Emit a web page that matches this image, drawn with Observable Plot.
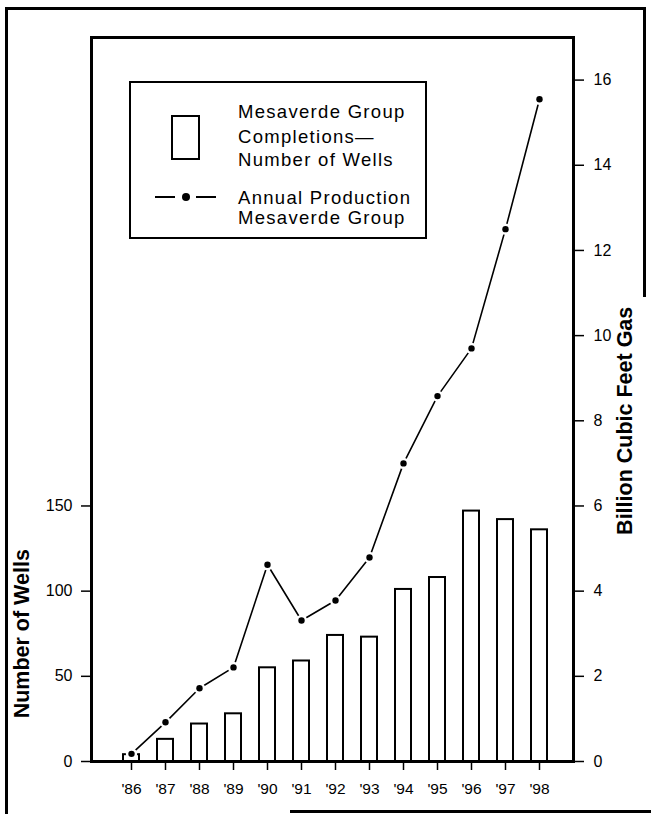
<!DOCTYPE html>
<html>
<head>
<meta charset="utf-8">
<script src="https://cdn.jsdelivr.net/npm/d3@7"></script>
<script src="https://cdn.jsdelivr.net/npm/@observablehq/plot@0.6"></script>
<style>
  html, body { margin: 0; padding: 0; background: #fff; }
  #wrap { position: relative; width: 651px; height: 814px; overflow: hidden; font-family: "Liberation Sans", Arial, Helvetica, sans-serif; }
  .line { position: absolute; background: #000; }
  #legend { position: absolute; left: 129px; top: 81px; width: 294px; height: 154px; border: 2.5px solid #000; background: #fff; }
  #legend .sw { position: absolute; left: 40px; top: 32px; width: 25px; height: 41px; border: 2px solid #000; }
  #legend .txt { position: absolute; left: 107px; font-size: 18.5px; letter-spacing: 1.3px; line-height: 1; white-space: nowrap; color: #000; }
  #legend .dash { position: absolute; height: 2px; background: #000; top: 113px; }
  #legend .dot { position: absolute; width: 8px; height: 8px; border-radius: 50%; background: #000; left: 51px; top: 110px; }
</style>
</head>
<body>
<div id="wrap"></div>
<script>
const years = ["'86", "'87", "'88", "'89", "'90", "'91", "'92", "'93", "'94", "'95", "'96", "'97", "'98"];
const wells = [4, 13, 22, 28, 55, 59, 74, 73, 101, 108, 147, 142, 136];
const production = [0.18, 0.92, 1.72, 2.21, 4.62, 3.31, 3.78, 4.79, 7.0, 8.58, 9.7, 12.5, 15.55];
const leftTicks = [0, 50, 100, 150];
const rightTicks = [0, 2, 4, 6, 8, 10, 12, 14, 16];
const ratio = 25; // wells per billion cubic feet on the shared axis

const data = years.map((y, i) => ({year: y, wells: wells[i], prod: production[i], prodScaled: production[i] * ratio}));

const chart = Plot.plot({
  width: 651,
  height: 814,
  marginLeft: 91,
  marginRight: 78,
  marginTop: 37,
  marginBottom: 53,
  style: {fontFamily: "'Liberation Sans', Arial, Helvetica, sans-serif", fontSize: "16px", background: "transparent", color: "#000"},
  x: {type: "band", domain: years, padding: 0.52, insetLeft: 8.5, insetRight: 1.5},
  y: {domain: [0, 17 * ratio]},
  marks: [
    Plot.barY(data, {x: "year", y: "wells", fill: "white", stroke: "black", strokeWidth: 2}),
    Plot.line(data, {x: "year", y: "prodScaled", stroke: "black", strokeWidth: 1.6}),
    Plot.dot(data, {x: "year", y: "prodScaled", r: 3.2, fill: "black", stroke: "white", strokeWidth: 5, paintOrder: "stroke"}),
    Plot.axisY({anchor: "left", ticks: leftTicks, tickSize: 10, tickPadding: 9, strokeWidth: 1.5, fontSize: 16, label: null}),
    Plot.axisY({anchor: "right", ticks: rightTicks.map(d => d * ratio), tickFormat: d => String(d / ratio), tickSize: 10, tickPadding: 10, strokeWidth: 1.5, fontSize: 16, label: null}),
    Plot.axisX({anchor: "bottom", tickSize: 9, tickPadding: 12, strokeWidth: 1.5, fontSize: 15.5, label: null}),
    Plot.text(["Number of Wells"], {frameAnchor: "left", textAnchor: "middle", y: [d3.mean(d3.extent(leftTicks))], dx: -69, rotate: -90, text: d => d, fontWeight: "bold", fontSize: 21.5, letterSpacing: "0.8px"}),
    Plot.text(["Billion Cubic Feet Gas"], {frameAnchor: "right", textAnchor: "middle", y: [d3.mean(d3.extent(rightTicks)) * ratio], dx: 52, rotate: -90, text: d => d, fontWeight: "bold", fontSize: 21.5, letterSpacing: "0.8px"}),
    Plot.frame({stroke: "black", strokeWidth: 3})
  ]
});

const wrap = document.getElementById("wrap");
chart.style.position = "absolute";
chart.style.left = "0px";
chart.style.top = "0px";
wrap.appendChild(chart);

// outer page frame (scan border)
const lines = [
  {left: 5, top: 7, width: 2.5, height: 814},
  {left: 5, top: 7, width: 641, height: 2.5},
  {left: 643, top: 7, width: 2.5, height: 290},
  {left: 290, top: 810, width: 361, height: 2.5}
];
for (const l of lines) {
  const d = document.createElement("div");
  d.className = "line";
  Object.assign(d.style, {left: l.left + "px", top: l.top + "px", width: l.width + "px", height: l.height + "px"});
  wrap.appendChild(d);
}

// legend
const legend = document.createElement("div");
legend.id = "legend";
legend.innerHTML = `
  <div class="sw"></div>
  <div class="txt" style="top:20px">Mesaverde Group</div>
  <div class="txt" style="top:45px">Completions—</div>
  <div class="txt" style="top:68px">Number of Wells</div>
  <div class="dash" style="left:24px;width:20px"></div>
  <div class="dot"></div>
  <div class="dash" style="left:65px;width:20px"></div>
  <div class="txt" style="top:106px">Annual Production</div>
  <div class="txt" style="top:126px">Mesaverde Group</div>
`;
wrap.appendChild(legend);
</script>
</body>
</html>
